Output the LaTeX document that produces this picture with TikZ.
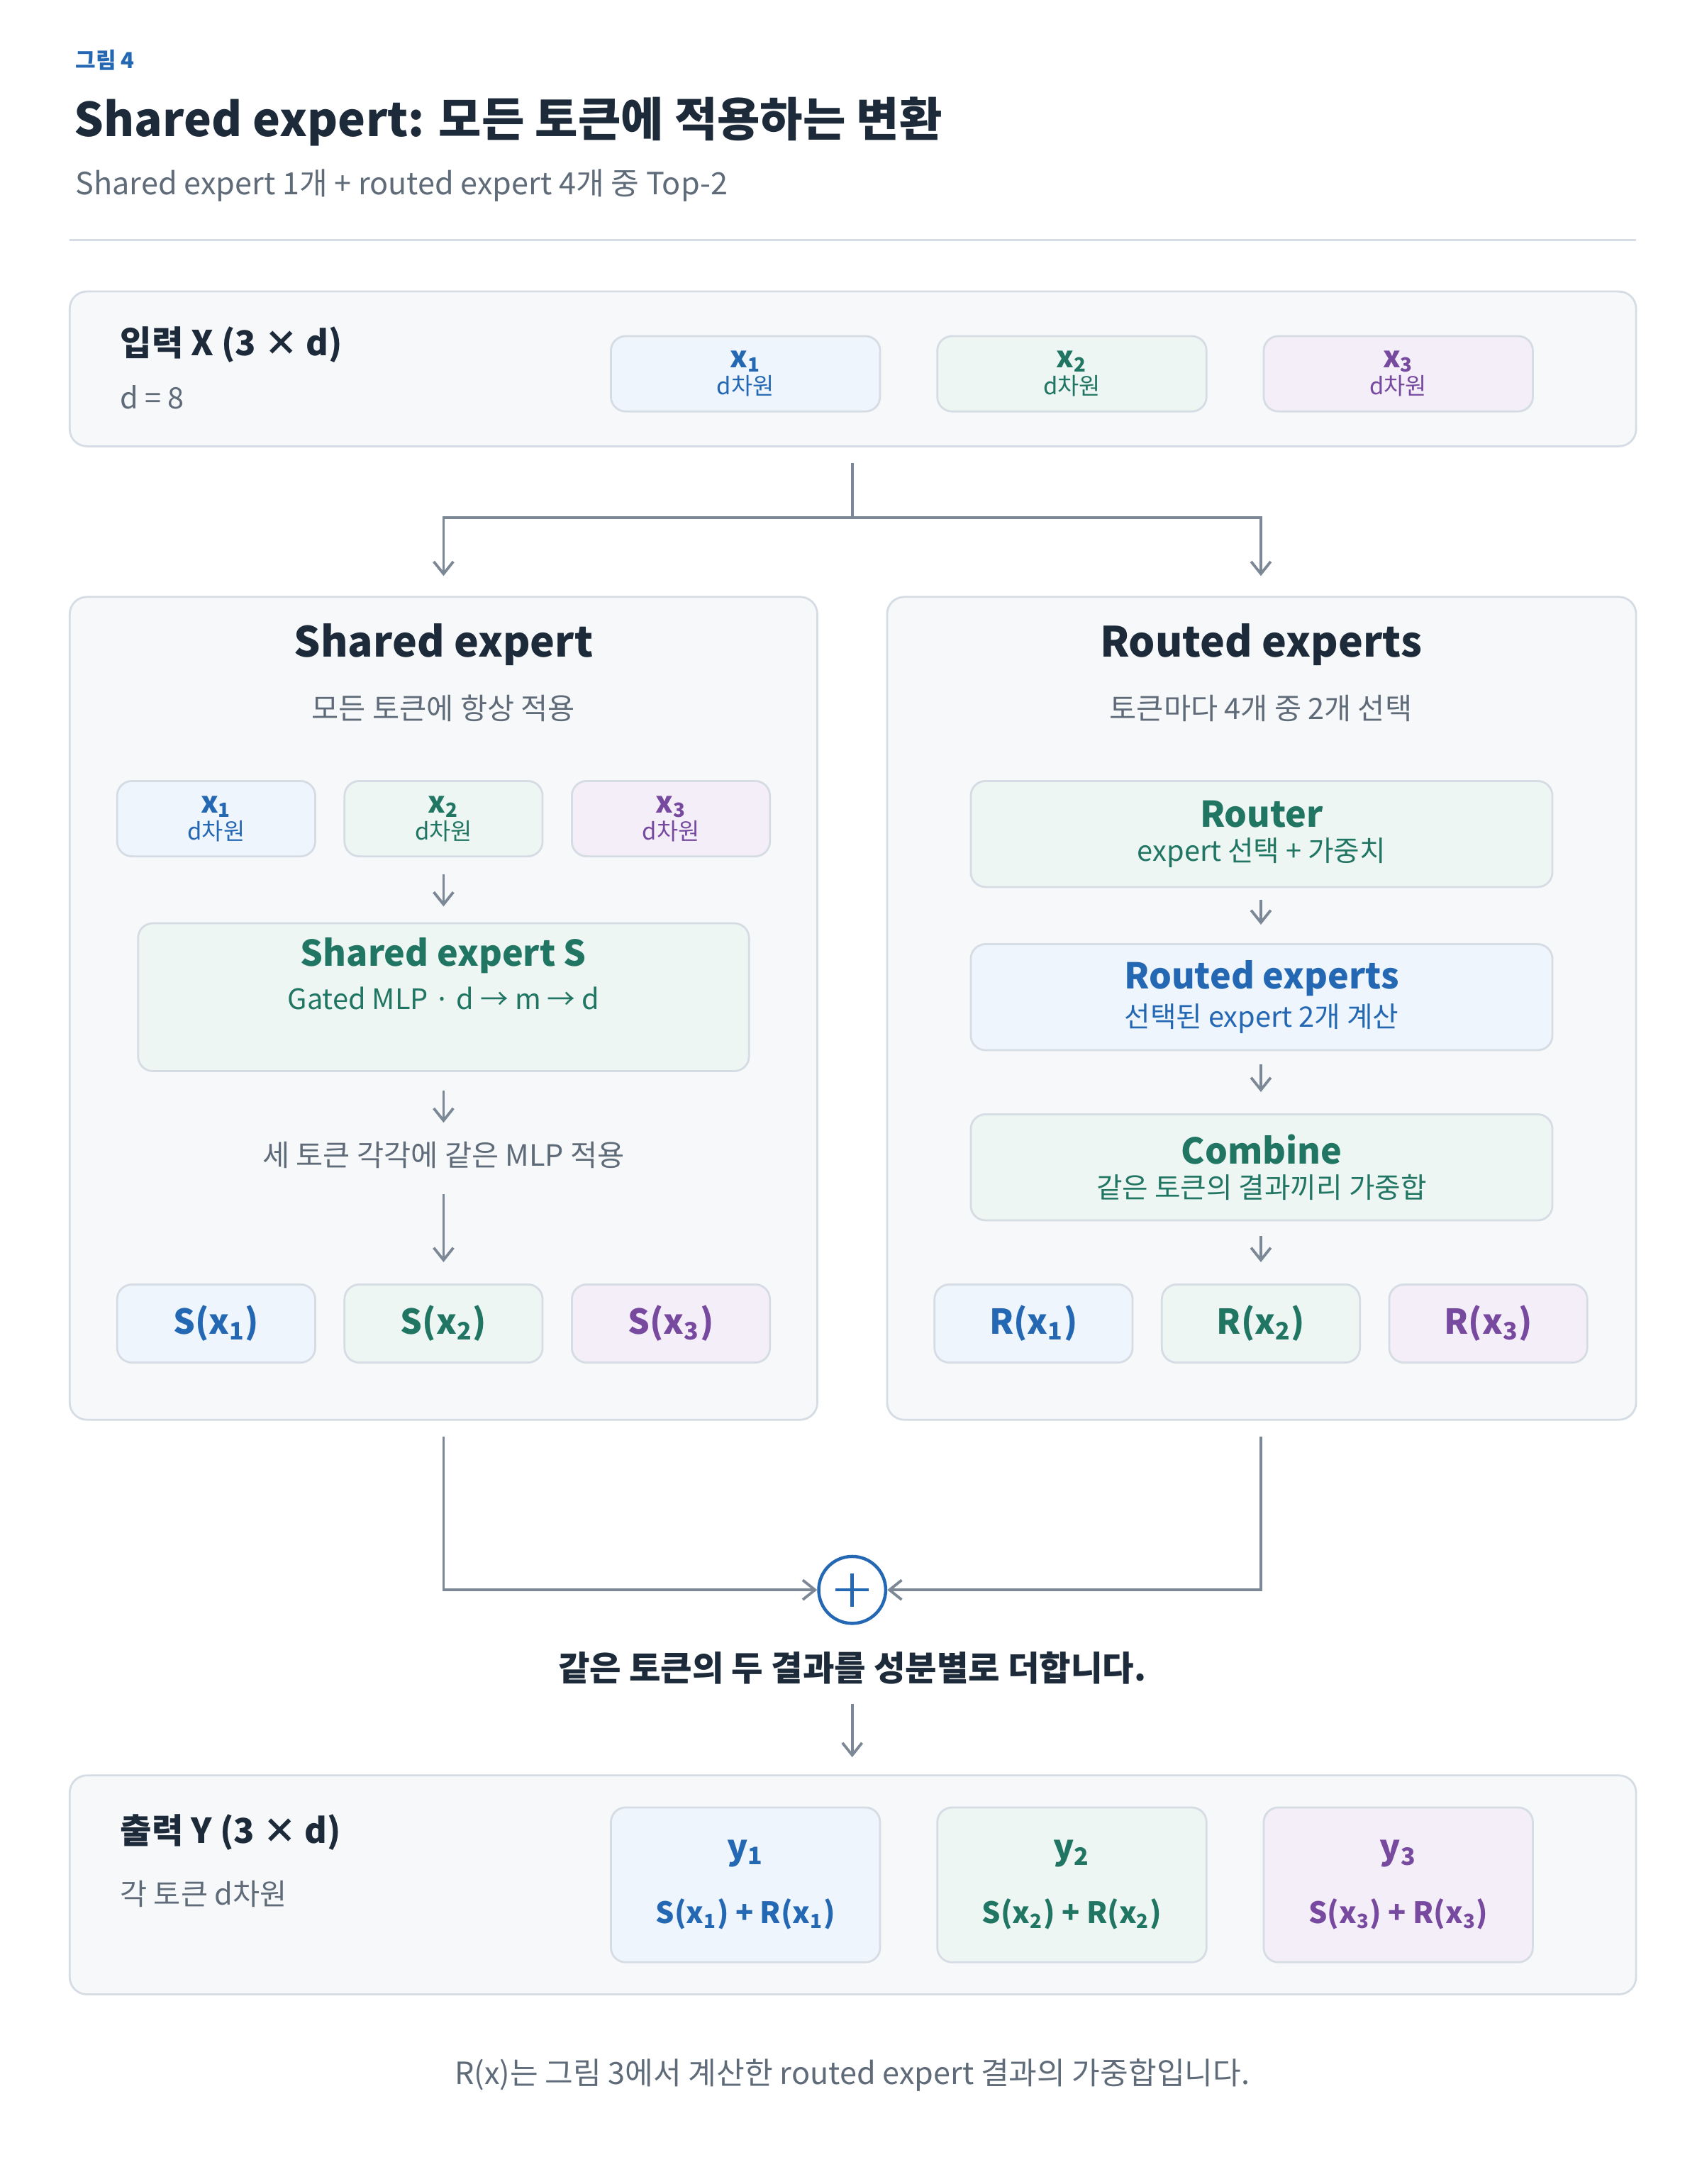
\documentclass[tikz,border=0pt]{standalone}
\usepackage{fontspec}
\setmainfont{Noto Sans CJK KR}
\usetikzlibrary{arrows.meta,positioning}
\newdimen\px \px=0.02cm
\definecolor{ink}{HTML}{1C2A3A}
\definecolor{muted}{HTML}{5F6B78}
\definecolor{rulec}{HTML}{D5DCE4}
\definecolor{panelfill}{HTML}{F7F8FA}
\definecolor{arrowc}{HTML}{7C8896}
\definecolor{tblue}{HTML}{2468B4}
\definecolor{tgreen}{HTML}{217563}
\definecolor{tpurple}{HTML}{774AA0}
\definecolor{fblue}{HTML}{EEF5FC}
\definecolor{fgreen}{HTML}{EDF6F3}
\definecolor{fpurple}{HTML}{F3EEF8}
\newcommand{\fs}[1]{\fontsize{#1}{#1}\selectfont}
\tikzset{
  panel/.style={draw=rulec, fill=panelfill, rounded corners=7pt, line width=0.8pt},
  tok/.style={draw=rulec, rounded corners=6pt, line width=0.8pt, align=center, inner sep=0pt},
  blue tok/.style={tok, fill=fblue, text=tblue},
  green tok/.style={tok, fill=fgreen, text=tgreen},
  purple tok/.style={tok, fill=fpurple, text=tpurple},
  flow/.style={draw=arrowc, line width=1.1pt, -{Straight Barb[length=5pt,width=8pt]}},
  line/.style={draw=arrowc, line width=1.1pt},
}
\begin{document}
\begin{tikzpicture}[x=0.02cm, y=-0.02cm]
  \useasboundingbox[fill=white] (0,0) rectangle (1220,1566);
  % header
  \node[anchor=west, text=tblue, font=\fs{9}\bfseries] (fig) at (48,43) {그림 4};
  \node[anchor=west, text=ink, font=\fs{19}\bfseries] (title) at (47,87) {Shared expert: 모든 토큰에 적용하는 변환};
  \node[anchor=west, text=muted, font=\fs{12.5}] (sub) at (48,133) {Shared expert 1개 + routed expert 4개 중 Top-2};
  \draw[rulec, line width=0.8pt] (50,172) -- (1173,172);

  % input
  \draw[panel] (50,209) rectangle (1173,320);
  \node[anchor=west, text=ink, font=\fs{14}\bfseries] (inT) at (80,247) {입력 X (3 × d)};
  \node[anchor=west, text=muted, font=\fs{12}] (inS) at (80,285) {d = 8};
  \foreach \cx/\st/\i in {534.5/blue/1, 768.5/green/2, 1002.5/purple/3}
    \node[\st\space tok, minimum width=193\px, minimum height=54\px] (in\i) at (\cx,268)
      {{\fs{12}\bfseries x\textsubscript{\i}}\\[-1pt]{\fs{9.5}d차원}};

  % split
  \coordinate (split) at (611,371);
  \coordinate (top) at (611,332);
  \draw[line] (top) -- (split);
  \draw[flow] (split) -| (318,413);
  \draw[flow] (split) -| (904,413);

  % shared panel
  \draw[panel] (50,428) rectangle (586,1018);
  \node[text=ink, font=\fs{17}\bfseries] (shT) at (318,462) {Shared expert};
  \node[text=muted, font=\fs{12}] (shS) at (318,508) {모든 토큰에 항상 적용};
  \foreach \cx/\st/\i in {155/blue/1, 318/green/2, 481/purple/3}
    \node[\st\space tok, minimum width=142\px, minimum height=54\px] (sx\i) at (\cx,587)
      {{\fs{12}\bfseries x\textsubscript{\i}}\\[-1pt]{\fs{9.5}d차원}};
  \node[green tok, minimum width=438\px, minimum height=106\px] (S) at (318,715) {};
  \node[text=tgreen, font=\fs{14.5}\bfseries] (Sname) at (318,685) {Shared expert S};
  \node[text=tgreen, font=\fs{11.5}] (Sdesc) at (318,716) {Gated MLP · d → m → d};
  \draw[flow] (318,627) -- (318,650);
  \draw[flow] (318,782) -- (318,805);
  \node[text=muted, font=\fs{12}] (each) at (318,828) {세 토큰 각각에 같은 MLP 적용};
  \draw[flow] (318,856) -- (318,905);
  \foreach \cx/\st/\i in {155/blue/1, 318/green/2, 481/purple/3}
    \node[\st\space tok, minimum width=142\px, minimum height=56\px, font=\fs{14}\bfseries] (s\i) at (\cx,949)
      {S(x\textsubscript{\i})};

  % routed panel
  \draw[panel] (636,428) rectangle (1173,1018);
  \node[text=ink, font=\fs{17}\bfseries] (rtT) at (904,462) {Routed experts};
  \node[text=muted, font=\fs{12}] (rtS) at (904,508) {토큰마다 4개 중 2개 선택};
  \node[green tok, minimum width=417\px, minimum height=76\px] (router) at (904.5,598)
    {{\fs{14.5}\bfseries Router}\\[2pt]{\fs{11.5}expert 선택 + 가중치}};
  \node[blue tok, minimum width=417\px, minimum height=76\px] (experts) at (904.5,715)
    {{\fs{14.5}\bfseries Routed experts}\\[2pt]{\fs{11.5}선택된 expert 2개 계산}};
  \node[green tok, minimum width=417\px, minimum height=76\px] (combine) at (904.5,837)
    {{\fs{14.5}\bfseries Combine}\\[2pt]{\fs{11.5}같은 토큰의 결과끼리 가중합}};
  \draw[flow] (904,645) -- (904,663);
  \draw[flow] (904,763) -- (904,783);
  \draw[flow] (904,886) -- (904,905);
  \foreach \cx/\st/\i in {741/blue/1, 904/green/2, 1067/purple/3}
    \node[\st\space tok, minimum width=142\px, minimum height=56\px, font=\fs{14}\bfseries] (r\i) at (\cx,949)
      {R(x\textsubscript{\i})};

  % merge
  \node[circle, draw=tblue, line width=1.3pt, fill=white, minimum size=48\px, inner sep=0pt] (plus) at (611,1140) {};
  \draw[tblue, line width=1.3pt] (599,1140) -- (623,1140) (611,1128) -- (611,1152);
  \draw[flow] (318,1030) |- (plus.west);
  \draw[flow] (904,1030) |- (plus.east);
  \node[text=ink, font=\fs{14}\bfseries] (sum) at (611,1196) {같은 토큰의 두 결과를 성분별로 더합니다.};
  \draw[flow] (611,1222) -- (611,1260);

  % output
  \draw[panel] (50,1273) rectangle (1173,1430);
  \node[anchor=west, text=ink, font=\fs{14}\bfseries] (outT) at (80,1314) {출력 Y (3 × d)};
  \node[anchor=west, text=muted, font=\fs{12}] (outS) at (80,1358) {각 토큰 d차원};
  \foreach \cx/\st/\i in {534.5/blue/1, 768.5/green/2, 1002.5/purple/3}
    \node[\st\space tok, minimum width=193\px, minimum height=111\px] (y\i) at (\cx,1351.5)
      {{\fs{14}\bfseries y\textsubscript{\i}}\\[12pt]{\fs{12}\bfseries S(x\textsubscript{\i}) + R(x\textsubscript{\i})}};

  % footer
  \node[text=muted, font=\fs{12.5}] (note) at (611,1488) {R(x)는 그림 3에서 계산한 routed expert 결과의 가중합입니다.};
\end{tikzpicture}
\end{document}
